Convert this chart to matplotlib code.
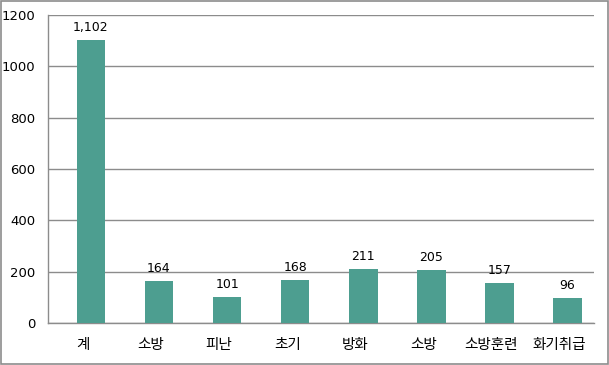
import matplotlib
matplotlib.use("Agg")
import matplotlib.pyplot as plt
import matplotlib.transforms as mtransforms
from matplotlib.patches import Rectangle

plt.rcParams['font.family'] = ['Noto Sans CJK KR', 'DejaVu Sans']

categories = ['계', '소방', '피난', '초기', '방화', '소방', '소방훈련', '화기취급']
values = [1102, 164, 101, 168, 211, 205, 157, 96]
yticks = [0, 200, 400, 600, 800, 1000, 1200]

bar_color = '#4d9e90'
grid_color = '#8c8c8c'

fig = plt.figure(figsize=(6.09, 3.65), dpi=100)
ax = fig.add_axes([48 / 609, 42 / 365, 546 / 609, 308 / 365])

x = range(len(categories))
ax.bar(x, values, width=0.42, color=bar_color, zorder=3)

for xi, v in zip(x, values):
    ax.text(xi, v + 24, f"{v:,}", ha='center', va='bottom', fontsize=9,
            family=['DejaVu Sans'])

ax.set_xlim(-0.63, len(categories) - 1 + 0.39)
ax.set_ylim(0, 1200)
ax.set_yticks(yticks)
ax.set_yticklabels([str(t) for t in yticks], fontsize=9.5, family=['DejaVu Sans'])
ax.set_xticks(list(x))
ax.set_xticklabels(categories, fontsize=10.5)
ax.tick_params(axis='both', length=0)
ax.tick_params(axis='y', pad=9)
ax.tick_params(axis='x', pad=11)

# category labels sit a little left of the bars, as in the original
shift = mtransforms.ScaledTranslation(-0.08, 0, fig.dpi_scale_trans)
for lbl in ax.get_xticklabels():
    lbl.set_transform(lbl.get_transform() + shift)

ax.yaxis.grid(True, color=grid_color, linewidth=1, zorder=0)
for side in ['top', 'right']:
    ax.spines[side].set_visible(False)
for side in ['left', 'bottom']:
    ax.spines[side].set_color(grid_color)
    ax.spines[side].set_linewidth(1)

# outer border of the chart
fig.patches.append(Rectangle((0.002, 0.003), 0.996, 0.994, transform=fig.transFigure,
                             fill=False, edgecolor='#8c8c8c', linewidth=1.2))

plt.savefig("out.png", dpi=100)
